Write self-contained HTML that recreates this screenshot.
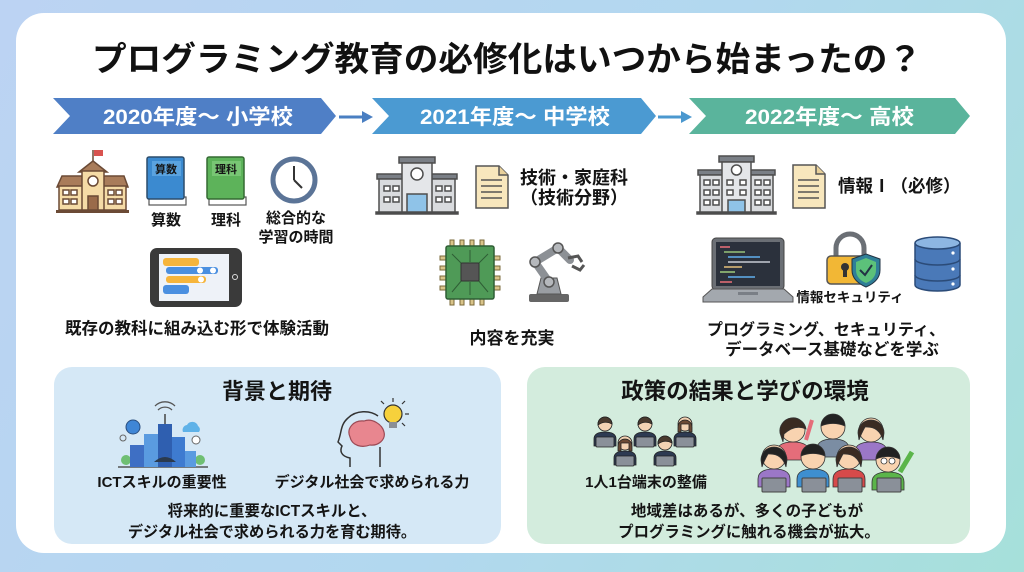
<!DOCTYPE html>
<html><head><meta charset="utf-8">
<style>
html,body{margin:0;padding:0;}
body{width:1024px;height:572px;overflow:hidden;background:linear-gradient(120deg,#bcd3f3 0%,#b2d8ef 55%,#a6e0da 100%);}
svg{display:block;}
text{font-family:"Liberation Sans","Noto Sans CJK JP",sans-serif;font-weight:700;fill:#141414;}
</style></head><body>
<svg width="1024" height="572" viewBox="0 0 1024 572" xmlns="http://www.w3.org/2000/svg">
<!-- card -->
<rect x="16" y="13" width="990" height="540" rx="28" fill="#fff"/>
<!-- title -->
<text x="92" y="71" font-size="34" textLength="830" lengthAdjust="spacingAndGlyphs" style="fill:#111">プログラミング教育の必修化はいつから始まったの？</text>

<!-- banners -->
<polygon points="53,98 321,98 336,116 321,134 53,134 70,116" fill="#4f7fc6"/>
<polygon points="372,98 641,98 656,116 641,134 372,134 389,116" fill="#4b9ad2"/>
<polygon points="689,98 955,98 970,116 955,134 689,134 706,116" fill="#5ab49c"/>
<line x1="339" y1="117" x2="364" y2="117" stroke="#4a7fc2" stroke-width="3"/>
<polygon points="362,111 373,117 362,123" fill="#4a7fc2"/>
<line x1="658" y1="117" x2="683" y2="117" stroke="#4b98cf" stroke-width="3"/>
<polygon points="681,111 692,117 681,123" fill="#4b98cf"/>
<text x="103" y="124" font-size="21" textLength="190" lengthAdjust="spacingAndGlyphs" style="fill:#fff">2020年度〜 小学校</text>
<text x="420" y="124" font-size="21" textLength="190" lengthAdjust="spacingAndGlyphs" style="fill:#fff">2021年度〜 中学校</text>
<text x="745" y="124" font-size="21" textLength="169" lengthAdjust="spacingAndGlyphs" style="fill:#fff">2022年度〜 高校</text>

<!-- ===== Column 1 ===== -->
<g stroke="#6b4a35" stroke-width="1.5">
<line x1="93" y1="150" x2="93" y2="166"/>
<rect x="94" y="150" width="9" height="6" fill="#d9534f" stroke="none"/>
<polygon points="57,187 62,176 84,176 84,187" fill="#a97c5a"/>
<polygon points="102,176 124,176 128,187 102,187" fill="#a97c5a"/>
<rect x="59" y="186" width="67" height="24" fill="#f5dba6"/>
<polygon points="79,172 93,161 107,172" fill="#a97c5a"/>
<rect x="82" y="171" width="22" height="39" fill="#f5dba6"/>
<circle cx="93" cy="181" r="5" fill="#fff"/>
<rect x="88" y="196" width="10" height="14" fill="#9a6b4a"/>
<g fill="#fff"><rect x="63" y="190" width="6" height="5"/><rect x="71" y="190" width="6" height="5"/><rect x="63" y="199" width="6" height="5"/><rect x="71" y="199" width="6" height="5"/>
<rect x="108" y="190" width="6" height="5"/><rect x="116" y="190" width="6" height="5"/><rect x="108" y="199" width="6" height="5"/><rect x="116" y="199" width="6" height="5"/></g>
<rect x="56" y="210" width="73" height="3" fill="#6b4a35" stroke="none"/>
</g>
<!-- books -->
<rect x="149" y="197" width="37" height="8" fill="#fff" stroke="#555" stroke-width="1.2"/>
<rect x="147" y="157" width="37" height="42" rx="2" fill="#3b8ad0" stroke="#2c4d6c" stroke-width="1.5"/>
<rect x="152" y="161" width="29" height="15" fill="#5aa3e0"/>
<text x="166" y="173" font-size="11" text-anchor="middle">算数</text>
<rect x="209" y="197" width="37" height="8" fill="#fff" stroke="#555" stroke-width="1.2"/>
<rect x="207" y="157" width="37" height="42" rx="2" fill="#5db35a" stroke="#356b33" stroke-width="1.5"/>
<rect x="212" y="161" width="29" height="15" fill="#78c674"/>
<text x="226" y="173" font-size="11" text-anchor="middle">理科</text>
<!-- clock -->
<circle cx="294" cy="180" r="21" fill="#fff" stroke="#5b7497" stroke-width="5"/>
<line x1="294" y1="180" x2="294" y2="166" stroke="#333" stroke-width="2"/>
<line x1="294" y1="180" x2="302" y2="188" stroke="#333" stroke-width="2"/>
<text x="166" y="225" font-size="15" text-anchor="middle">算数</text>
<text x="226" y="225" font-size="15" text-anchor="middle">理科</text>
<text x="296" y="223" font-size="15" text-anchor="middle">総合的な</text>
<text x="296" y="242" font-size="15" text-anchor="middle">学習の時間</text>
<!-- tablet -->
<rect x="150" y="248" width="92" height="59" rx="7" fill="#3a3a3a"/>
<rect x="159" y="254" width="70" height="47" fill="#eef2f8"/>
<rect x="163" y="258" width="36" height="8" rx="3" fill="#f6b53c"/>
<rect x="166" y="267" width="52" height="7" rx="3" fill="#4a8fe0"/>
<circle cx="200" cy="270.5" r="3" fill="#fff"/><circle cx="213" cy="270.5" r="3" fill="#fff"/>
<rect x="166" y="276" width="40" height="7" rx="3" fill="#f6b53c"/>
<circle cx="201" cy="279.5" r="3" fill="#fff"/>
<rect x="163" y="285" width="26" height="9" rx="3" fill="#4a8fe0"/>
<circle cx="235" cy="277" r="2.5" fill="none" stroke="#ddd" stroke-width="1"/>
<text x="197" y="334" font-size="16.5" text-anchor="middle">既存の教科に組み込む形で体験活動</text>

<!-- ===== Column 2 ===== -->
<g stroke="#4e4e4e" stroke-width="1.5">
<rect x="377" y="174" width="80" height="5" fill="#7a7f86"/>
<rect x="379" y="179" width="76" height="34" fill="#d9dbde"/>
<rect x="399" y="157" width="36" height="6" fill="#7a7f86"/>
<rect x="402" y="163" width="30" height="50" fill="#e4e6e9"/>
<circle cx="417" cy="174" r="6" fill="#fff"/>
<rect x="407" y="194" width="20" height="19" fill="#8fc3e8"/>
<g fill="#fff"><rect x="384" y="186" width="6" height="5"/><rect x="393" y="186" width="6" height="5"/><rect x="384" y="197" width="6" height="5"/><rect x="393" y="197" width="6" height="5"/>
<rect x="436" y="186" width="6" height="5"/><rect x="445" y="186" width="6" height="5"/><rect x="436" y="197" width="6" height="5"/><rect x="445" y="197" width="6" height="5"/></g>
<rect x="376" y="212" width="82" height="2" fill="#444"/>
</g>
<g stroke="#555" stroke-width="1.5">
<path d="M476 166 H499 L508 175 V208 H476 Z" fill="#f8e7bd"/>
<path d="M499 166 V175 H508" fill="#e8d09a"/>
<line x1="481" y1="180" x2="502" y2="180"/><line x1="481" y1="186" x2="502" y2="186"/><line x1="481" y1="192" x2="502" y2="192"/><line x1="481" y1="198" x2="502" y2="198"/>
</g>
<text x="520" y="184" font-size="18">技術・家庭科</text>
<text x="520" y="204" font-size="18">（技術分野）</text>
<!-- chip -->
<g fill="#d9c48a" stroke="#7a6a3a" stroke-width="1">
<rect x="450" y="240" width="4" height="8"/><rect x="460" y="240" width="4" height="8"/><rect x="470" y="240" width="4" height="8"/><rect x="480" y="240" width="4" height="8"/>
<rect x="450" y="297" width="4" height="8"/><rect x="460" y="297" width="4" height="8"/><rect x="470" y="297" width="4" height="8"/><rect x="480" y="297" width="4" height="8"/>
<rect x="440" y="256" width="8" height="4"/><rect x="440" y="266" width="8" height="4"/><rect x="440" y="276" width="8" height="4"/><rect x="440" y="286" width="8" height="4"/>
<rect x="492" y="256" width="8" height="4"/><rect x="492" y="266" width="8" height="4"/><rect x="492" y="276" width="8" height="4"/><rect x="492" y="286" width="8" height="4"/>
</g>
<rect x="446" y="246" width="48" height="53" rx="2" fill="#4f9a57" stroke="#2f5e35" stroke-width="1.5"/>
<g stroke="#2f5e35" stroke-width="1" fill="none"><path d="M452 254 L462 264 M488 254 L478 264 M452 292 L462 280 M488 292 L478 280 M470 250 V262 M470 282 V295"/></g>
<rect x="461" y="263" width="18" height="18" rx="1" fill="#555" stroke="#333"/>
<!-- robot arm -->
<rect x="529" y="294" width="40" height="8" rx="2" fill="#666"/>
<path d="M537 294 L541 278 H557 L561 294 Z" fill="#9a9ea3" stroke="#555"/>
<g stroke="#8c9095" stroke-width="8" stroke-linecap="round" fill="none">
<line x1="549" y1="282" x2="535" y2="262"/><line x1="535" y1="262" x2="558" y2="248"/><line x1="558" y1="248" x2="570" y2="260"/>
</g>
<g fill="#b5b8bc" stroke="#555" stroke-width="1.5"><circle cx="549" cy="282" r="5"/><circle cx="535" cy="262" r="5"/><circle cx="558" cy="248" r="5"/></g>
<path d="M568 258 L578 256 L582 262 M572 266 L580 270 L584 265" stroke="#555" stroke-width="3" fill="none"/>
<text x="512" y="344" font-size="17" text-anchor="middle">内容を充実</text>

<!-- ===== Column 3 ===== -->
<g stroke="#4e4e4e" stroke-width="1.5">
<rect x="698" y="170" width="77" height="5" fill="#7a7f86"/>
<rect x="700" y="175" width="73" height="38" fill="#d9dbde"/>
<rect x="719" y="156" width="35" height="6" fill="#7a7f86"/>
<rect x="722" y="162" width="29" height="51" fill="#e4e6e9"/>
<circle cx="736.5" cy="170" r="5" fill="#fff"/>
<rect x="728" y="200" width="17" height="13" fill="#8fc3e8"/>
<g fill="#fff">
<rect x="704" y="180" width="6" height="5"/><rect x="713" y="180" width="6" height="5"/><rect x="704" y="190" width="6" height="5"/><rect x="713" y="190" width="6" height="5"/><rect x="704" y="200" width="6" height="5"/><rect x="713" y="200" width="6" height="5"/>
<rect x="727" y="180" width="6" height="5"/><rect x="740" y="180" width="6" height="5"/><rect x="727" y="190" width="6" height="5"/><rect x="740" y="190" width="6" height="5"/>
<rect x="755" y="180" width="6" height="5"/><rect x="764" y="180" width="6" height="5"/><rect x="755" y="190" width="6" height="5"/><rect x="764" y="190" width="6" height="5"/><rect x="755" y="200" width="6" height="5"/><rect x="764" y="200" width="6" height="5"/></g>
<rect x="697" y="212" width="79" height="2" fill="#444"/>
</g>
<g stroke="#555" stroke-width="1.5">
<path d="M793 165 H816 L825 174 V208 H793 Z" fill="#f8e7bd"/>
<path d="M816 165 V174 H825" fill="#e8d09a"/>
<line x1="798" y1="180" x2="819" y2="180"/><line x1="798" y1="186" x2="819" y2="186"/><line x1="798" y1="192" x2="819" y2="192"/><line x1="798" y1="198" x2="819" y2="198"/>
</g>
<text x="838" y="192" font-size="17.5">情報Ⅰ（必修）</text>
<!-- laptop -->
<rect x="712" y="238" width="72" height="52" rx="4" fill="#6b6f75" stroke="#444"/>
<rect x="716" y="242" width="64" height="44" fill="#2b313c"/>
<g stroke-width="1.6">
<line x1="720" y1="247" x2="730" y2="247" stroke="#e06c75"/><line x1="724" y1="252" x2="745" y2="252" stroke="#98c379"/>
<line x1="728" y1="257" x2="760" y2="257" stroke="#61afef"/><line x1="728" y1="262" x2="770" y2="262" stroke="#c8ccd4"/>
<line x1="724" y1="267" x2="742" y2="267" stroke="#e5c07b"/><line x1="720" y1="272" x2="735" y2="272" stroke="#98c379"/>
<line x1="728" y1="277" x2="755" y2="277" stroke="#61afef"/><line x1="720" y1="282" x2="732" y2="282" stroke="#e06c75"/>
</g>
<polygon points="703,297 712,289 784,289 793,297 793,302 703,302" fill="#a3a8ae" stroke="#555"/>
<rect x="738" y="292" width="20" height="3" fill="#7a7f86"/>
<!-- lock -->
<path d="M836 258 V248 A14 14 0 0 1 864 248 V258" fill="none" stroke="#6b6f75" stroke-width="5"/>
<rect x="827" y="256" width="44" height="28" rx="4" fill="#f2b735" stroke="#555" stroke-width="1.5"/>
<circle cx="845" cy="267" r="4" fill="#333"/><rect x="843" y="268" width="4" height="9" fill="#333"/>
<path d="M866 254 L880 259 V270 C880 279 873 284 866 287 C859 284 852 279 852 270 V259 Z" fill="#2f7f98" stroke="#234" stroke-width="1"/>
<path d="M866 258 L876 262 V270 C876 277 871 281 866 283 C861 281 856 277 856 270 V262 Z" fill="#5cc17a"/>
<path d="M860 270 L865 275 L872 265" stroke="#234" stroke-width="2" fill="none"/>
<!-- database -->
<g stroke="#2b4b78" stroke-width="1.5">
<path d="M915 275 V285 A22.5 6 0 0 0 960 285 V275" fill="#4a79b8"/>
<path d="M915 259 V275 A22.5 6 0 0 0 960 275 V259" fill="#4a79b8"/>
<path d="M915 243 V259 A22.5 6 0 0 0 960 259 V243" fill="#4a79b8"/>
<ellipse cx="937.5" cy="243" rx="22.5" ry="6" fill="#8db6e2"/>
</g>
<g fill="#fff"><circle cx="953" cy="253" r="1.6"/><circle cx="953" cy="269" r="1.6"/><circle cx="953" cy="284" r="1.6"/></g>
<text x="850" y="302" font-size="13.5" text-anchor="middle">情報セキュリティ</text>
<text x="826" y="335" font-size="16" text-anchor="middle">プログラミング、セキュリティ、</text>
<text x="832" y="355" font-size="16.5" text-anchor="middle">データベース基礎などを学ぶ</text>

<!-- ===== Bottom left box ===== -->
<rect x="54" y="367" width="447" height="177" rx="18" fill="#d5e8f6"/>
<text x="277" y="399" font-size="22" text-anchor="middle">背景と期待</text>
<!-- city -->
<g>
<line x1="118" y1="467" x2="208" y2="467" stroke="#555" stroke-width="1.5"/>
<circle cx="126" cy="460" r="5" fill="#6fbf73"/><circle cx="200" cy="460" r="5" fill="#6fbf73"/>
<rect x="130" y="445" width="14" height="22" fill="#3e6fc4"/>
<rect x="144" y="434" width="14" height="33" fill="#5a9be0"/>
<rect x="158" y="424" width="14" height="43" fill="#2f5fb0"/>
<line x1="165" y1="424" x2="165" y2="414" stroke="#444" stroke-width="1.5"/>
<rect x="172" y="437" width="13" height="30" fill="#3e7bd0"/>
<rect x="185" y="451" width="11" height="16" fill="#5a9be0"/>
<path d="M154 462 Q165 452 176 462 Z" fill="#2b3a4d"/>
<circle cx="133" cy="427" r="7" fill="#3f86d6" stroke="#2a4f80"/>
<path d="M183 432 a5 5 0 0 1 4 -7 a6 6 0 0 1 11 1 a4 4 0 0 1 1 6 Z" fill="#5fb2e8"/>
<path d="M158 410 A10 10 0 0 1 172 410 M155 406 A14 14 0 0 1 175 406" stroke="#555" fill="none" stroke-width="1.3"/>
<circle cx="123" cy="438" r="3" fill="none" stroke="#666"/>
<circle cx="196" cy="440" r="4" fill="#fff" stroke="#666"/>
</g>
<!-- brain -->
<path d="M350 467 V458 C340 456 340 450 342 446 L338 442 C342 432 340 425 348 418 C356 410 370 410 378 416" fill="none" stroke="#333" stroke-width="1.5"/>
<path d="M350 437 C346 428 354 420 364 421 C372 418 382 424 384 432 C386 440 378 446 370 445 C362 448 352 446 350 437 Z" fill="#e8868f" stroke="#9c4a55" stroke-width="1.2"/>
<path d="M380 447 V467" stroke="#333" stroke-width="1.5"/>
<circle cx="393" cy="414" r="9" fill="#f6d13c" stroke="#333" stroke-width="1.2"/>
<rect x="389" y="422" width="8" height="6" fill="#8a8f96"/>
<g stroke="#333" stroke-width="1.2"><line x1="393" y1="398" x2="393" y2="402"/><line x1="405" y1="414" x2="409" y2="414"/><line x1="402" y1="404" x2="405" y2="401"/><line x1="384" y1="404" x2="381" y2="401"/><line x1="402" y1="423" x2="405" y2="426"/></g>
<text x="162" y="487" font-size="15" text-anchor="middle">ICTスキルの重要性</text>
<text x="372" y="487" font-size="15" text-anchor="middle">デジタル社会で求められる力</text>
<text x="272" y="516" font-size="15.4" text-anchor="middle">将来的に重要なICTスキルと、</text>
<text x="272" y="537" font-size="15.2" text-anchor="middle">デジタル社会で求められる力を育む期待。</text>

<!-- ===== Bottom right box ===== -->
<rect x="527" y="367" width="443" height="177" rx="18" fill="#d3ecdd"/>
<text x="745" y="399" font-size="22.5" text-anchor="middle">政策の結果と学びの環境</text>
<!-- people with laptops -->
<g stroke="#222" stroke-width="0.8">
<g transform="translate(605,424)"><path d="M-11 22 V15 Q-11 8 0 8 Q11 8 11 15 V22 Z" fill="#2d3a52"/><circle r="7" fill="#f3d2b3"/><path d="M-7 0 A7 7 0 0 1 7 0 Q0 -4 -7 1 Z" fill="#4a3a2e"/><rect x="-9" y="13" width="18" height="10" rx="1" fill="#8a9099"/></g>
<g transform="translate(645,424)"><path d="M-11 22 V15 Q-11 8 0 8 Q11 8 11 15 V22 Z" fill="#2d3a52"/><circle r="7" fill="#f3d2b3"/><path d="M-7 0 A7 7 0 0 1 7 0 Q0 -4 -7 1 Z" fill="#4a3a2e"/><rect x="-9" y="13" width="18" height="10" rx="1" fill="#8a9099"/></g>
<g transform="translate(685,424)"><path d="M-11 22 V15 Q-11 8 0 8 Q11 8 11 15 V22 Z" fill="#2d3a52"/><circle r="7" fill="#f3d2b3"/><path d="M-7 3 A7 7 0 0 1 7 3 V8 H4 V0 H-4 V8 H-7 Z" fill="#6b4a35"/><rect x="-9" y="13" width="18" height="10" rx="1" fill="#8a9099"/></g>
<g transform="translate(625,443)"><path d="M-11 22 V15 Q-11 8 0 8 Q11 8 11 15 V22 Z" fill="#2d3a52"/><circle r="7" fill="#f3d2b3"/><path d="M-7 3 A7 7 0 0 1 7 3 V8 H4 V0 H-4 V8 H-7 Z" fill="#6b4a35"/><rect x="-9" y="13" width="18" height="10" rx="1" fill="#8a9099"/></g>
<g transform="translate(665,443)"><path d="M-11 22 V15 Q-11 8 0 8 Q11 8 11 15 V22 Z" fill="#2d3a52"/><circle r="7" fill="#f3d2b3"/><path d="M-7 0 A7 7 0 0 1 7 0 Q0 -4 -7 1 Z" fill="#4a3a2e"/><rect x="-9" y="13" width="18" height="10" rx="1" fill="#8a9099"/></g>
</g>
<text x="646" y="487" font-size="15" text-anchor="middle">1人1台端末の整備</text>
<!-- kids group -->
<g stroke="#333" stroke-width="0.8">
<path d="M806 440 L812 420" stroke="#e56d7a" stroke-width="4"/>
<g transform="translate(793,430)"><path d="M-16 30 V22 Q-16 12 0 12 Q16 12 16 22 V30 Z" fill="#e56d7a"/><circle r="12" fill="#f8d3b0"/><path d="M-13 3 A13 13 0 0 1 13 -1 Q2 -6 -9 4 L-10 12 Z" fill="#3a2b22"/></g>
<g transform="translate(833,427)"><path d="M-16 30 V22 Q-16 12 0 12 Q16 12 16 22 V30 Z" fill="#7b8da3"/><circle r="12" fill="#f8d3b0"/><path d="M-12 -1 A12 12 0 0 1 12 -1 Q0 -6 -12 -1 Z" fill="#222"/></g>
<g transform="translate(871,430)"><path d="M-16 30 V22 Q-16 12 0 12 Q16 12 16 22 V30 Z" fill="#9b77c7"/><circle r="12" fill="#f8d3b0"/><path d="M-13 3 A13 13 0 0 1 13 3 L12 10 Q8 -4 -6 -3 Q-10 4 -12 10 Z" fill="#3a2b22"/></g>
<path d="M900 472 L912 452" stroke="#5bb54a" stroke-width="5"/>
<g transform="translate(774,457)"><path d="M-16 30 V22 Q-16 12 0 12 Q16 12 16 22 V30 Z" fill="#9b77c7"/><circle r="12" fill="#f8d3b0"/><path d="M-13 3 A13 13 0 0 1 13 3 L12 10 Q8 -4 -6 -3 Q-10 4 -12 10 Z" fill="#222"/></g>
<g transform="translate(813,457)"><path d="M-16 30 V22 Q-16 12 0 12 Q16 12 16 22 V30 Z" fill="#3e8fd0"/><circle r="12" fill="#f8d3b0"/><path d="M-12 -1 A12 12 0 0 1 12 -1 Q0 -6 -12 -1 Z" fill="#222"/></g>
<g transform="translate(849,457)"><path d="M-16 30 V22 Q-16 12 0 12 Q16 12 16 22 V30 Z" fill="#d64a4a"/><circle r="12" fill="#f8d3b0"/><path d="M-13 3 A13 13 0 0 1 13 3 L12 10 Q8 -4 -6 -3 Q-10 4 -12 10 Z" fill="#3a2b22"/></g>
<g transform="translate(888,460)"><path d="M-16 30 V22 Q-16 12 0 12 Q16 12 16 22 V30 Z" fill="#5bb54a"/><circle r="12" fill="#f8d3b0"/><path d="M-12 -1 A12 12 0 0 1 12 -1 Q0 -6 -12 -1 Z" fill="#222"/><circle cx="-4" cy="1" r="3" fill="#fff"/><circle cx="4" cy="1" r="3" fill="#fff"/></g>
</g>
<g fill="#8a9099" stroke="#444" stroke-width="1">
<rect x="762" y="478" width="24" height="14" rx="1"/><rect x="802" y="478" width="24" height="14" rx="1"/><rect x="838" y="478" width="24" height="14" rx="1"/><rect x="877" y="478" width="24" height="14" rx="1"/>
</g>
<text x="747" y="516" font-size="15.5" text-anchor="middle">地域差はあるが、多くの子どもが</text>
<text x="749" y="537" font-size="15.4" text-anchor="middle">プログラミングに触れる機会が拡大。</text>
</svg>
</body></html>
